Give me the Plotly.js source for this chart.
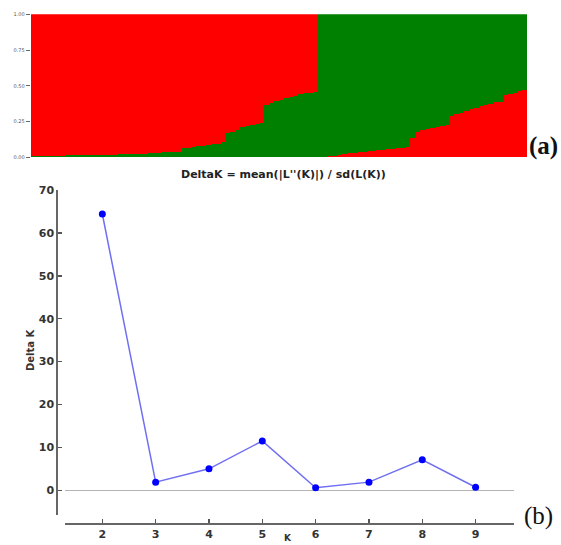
<!DOCTYPE html>
<html>
<head>
<meta charset="utf-8">
<script src="https://cdn.plot.ly/plotly-3.0.1.min.js"></script>
<style>html,body{margin:0;padding:0;background:#fff;}#chart{width:561px;height:545px;}</style>
</head>
<body>
<div id="chart"></div>
<script>
// (a) STRUCTURE-style membership: cluster 1 (red majority) individuals, green fraction
const group1Green = [
  0.010,0.010,0.010,0.011,0.011,0.012,0.012,0.013,0.013,0.014,
  0.014,0.015,0.015,0.016,0.016,0.017,0.018,0.019,0.020,0.021,
  0.022,0.023,0.024,0.026,0.028,0.030,0.032,0.034,0.036,0.038,
  0.040,
  0.065,0.068,0.072,0.076,0.080,0.085,0.090,0.096,0.105,
  0.170,0.180,0.190,0.210,0.220,0.225,0.232,0.240,
  0.366,0.378,0.392,0.400,0.412,0.420,0.430,0.440,0.448,0.452,0.459
];
// cluster 2 (green majority) individuals, red fraction
const group2Red = [
  0.003,0.005,0.008,0.012,0.017,0.022,0.027,0.032,0.036,0.040,
  0.044,0.047,0.050,0.053,0.056,0.060,0.064,0.068,0.075,
  0.132,
  0.180,0.188,0.195,0.205,0.212,0.220,0.228,
  0.290,0.300,0.312,0.322,0.335,0.348,0.358,0.368,0.376,0.384,0.390,
  0.435,0.442,0.452,0.462,0.470
];
const structTicks = [0, 0.25, 0.5, 0.75, 1];
const structTickText = ["0.00", "0.25", "0.50", "0.75", "1.00"];

// (b) Evanno DeltaK
const kValues = [2, 3, 4, 5, 6, 7, 8, 9];
const deltaK = [64.4, 1.9, 5.0, 11.5, 0.6, 1.9, 7.1, 0.7];
const kTicks = [2, 3, 4, 5, 6, 7, 8, 9];
const dkTicks = [0, 10, 20, 30, 40, 50, 60, 70];

const RED = "#ff0000", GREEN = "#008000";
const n1 = group1Green.length, n2 = group2Red.length;
const barX = [], barBottom = [], barTop = [], bottomCol = [], topCol = [];
group1Green.forEach((g, i) => { barX.push(i); barBottom.push(g); barTop.push(1 - g); bottomCol.push(GREEN); topCol.push(RED); });
group2Red.forEach((r, i) => { barX.push(n1 + i); barBottom.push(r); barTop.push(1 - r); bottomCol.push(RED); topCol.push(GREEN); });

const W = 561, H = 545;
const fx = p => p / W, fy = p => 1 - p / H;

const traces = [
  {type: "bar", x: barX, y: barBottom, xaxis: "x", yaxis: "y", marker: {color: bottomCol, line: {width: 0}}, hoverinfo: "skip", showlegend: false},
  {type: "bar", x: barX, y: barTop, xaxis: "x", yaxis: "y", marker: {color: topCol, line: {width: 0}}, hoverinfo: "skip", showlegend: false},
  {type: "scatter", mode: "lines+markers", x: kValues, y: deltaK, xaxis: "x2", yaxis: "y2",
   line: {color: "#6f6ff2", width: 1.5}, marker: {color: "#0000ff", size: 7}, showlegend: false}
];

const tickFont = {family: "DejaVu Sans", size: 11, color: "#333", weight: "bold"};

const layout = {
  width: W, height: H,
  margin: {l: 0, r: 0, t: 0, b: 0},
  paper_bgcolor: "#fff", plot_bgcolor: "rgba(0,0,0,0)",
  barmode: "stack", bargap: 0,
  showlegend: false,
  xaxis: {domain: [fx(30.7), fx(527.3)], range: [-0.5, n1 + n2 - 0.5], showticklabels: false, ticks: "", showgrid: false, zeroline: false, showline: false, fixedrange: true},
  yaxis: {domain: [fy(157.3), fy(14.3)], range: [0, 1], tickvals: structTicks, ticktext: structTickText,
          tickfont: {family: "DejaVu Sans", size: 5, color: "#555"}, ticks: "outside", ticklen: 4, tickcolor: "#666", tickwidth: 1,
          showgrid: false, zeroline: false, showline: false, fixedrange: true},
  xaxis2: {domain: [fx(65), fx(514)], range: [1.3, 9.72], anchor: "free", position: fy(524),
           tickvals: kTicks, tickfont: tickFont, ticks: "inside", ticklen: 4, tickcolor: "#555", tickwidth: 1.5,
           showline: true, linecolor: "#666", linewidth: 2, showgrid: false, zeroline: false},
  yaxis2: {domain: [fy(515), fy(190)], range: [-5.76, 70], anchor: "free", position: fx(57.3),
           tickvals: dkTicks, tickfont: tickFont, ticks: "inside", ticklen: 4, tickcolor: "#555", tickwidth: 1.5,
           showline: true, linecolor: "#666", linewidth: 2, showgrid: false,
           zeroline: true, zerolinecolor: "#b4b4b4", zerolinewidth: 1.5},
  annotations: [
    {xref: "paper", yref: "paper", x: fx(283), y: fy(174), text: "DeltaK = mean(|L''(K)|) / sd(L(K))", showarrow: false,
     xanchor: "center", yanchor: "middle", font: {family: "DejaVu Sans", size: 11, color: "#222", weight: "bold"}},
    {xref: "paper", yref: "paper", x: fx(30), y: fy(350), text: "Delta K", textangle: -90, showarrow: false,
     xanchor: "center", yanchor: "middle", font: {family: "DejaVu Sans", size: 10, color: "#333", weight: "bold"}},
    {xref: "paper", yref: "paper", x: fx(288), y: fy(545), text: "K", showarrow: false,
     xanchor: "center", yanchor: "bottom", font: {family: "DejaVu Sans", size: 9, color: "#333", weight: "bold"}},
    {xref: "paper", yref: "paper", x: fx(543), y: fy(146), text: "(a)", showarrow: false,
     xanchor: "center", yanchor: "middle", font: {family: "Liberation Serif", size: 25, color: "#111", weight: "bold"}},
    {xref: "paper", yref: "paper", x: fx(538), y: fy(516), text: "(b)", showarrow: false,
     xanchor: "center", yanchor: "middle", font: {family: "Liberation Serif", size: 25, color: "#111"}}
  ]
};

Plotly.newPlot("chart", traces, layout, {staticPlot: true, displayModeBar: false});
</script>
</body>
</html>
